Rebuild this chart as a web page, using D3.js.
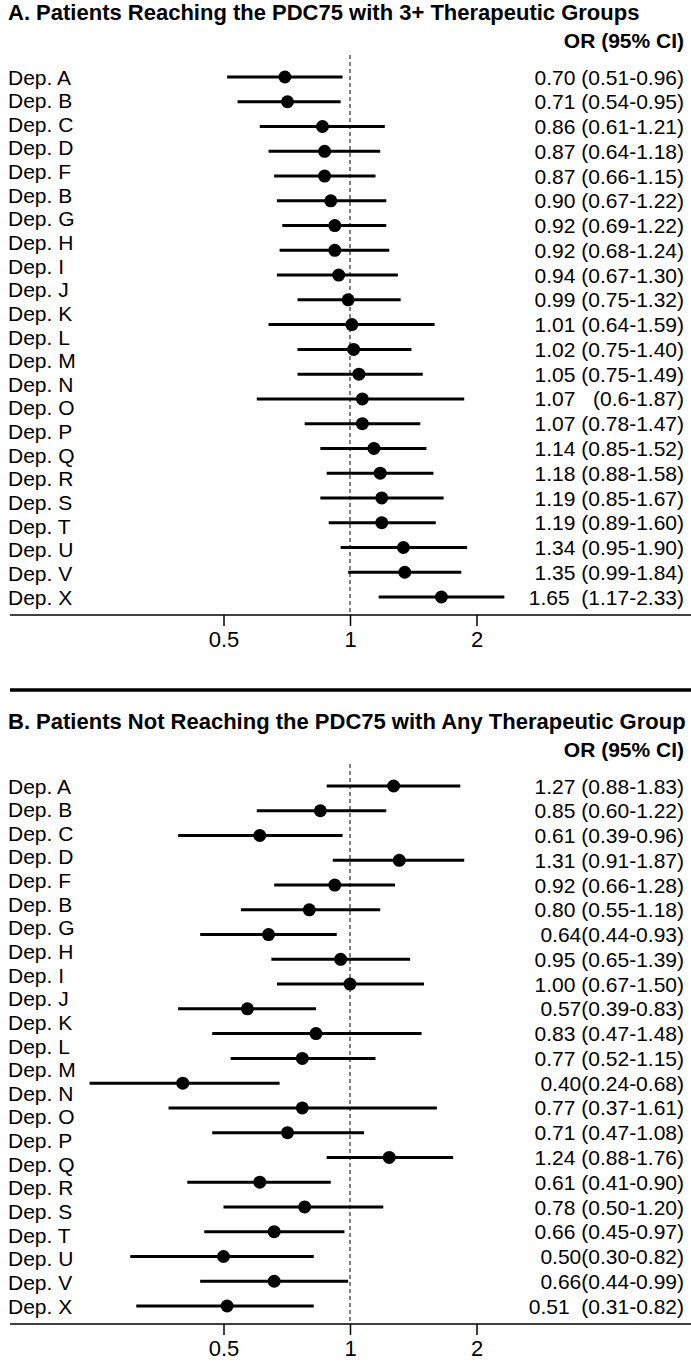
<!DOCTYPE html>
<html lang="en">
<head>
<meta charset="UTF-8">
<title>Forest plots</title>
<script src="https://d3js.org/d3.v7.min.js"></script>
<style>
  body { margin: 0; background: #fff; }
  text { font-family: "Liberation Sans", Arial, Helvetica, sans-serif; fill: #000; }
</style>
</head>
<body>
<script>
// department labels (23 of them, the plot rows are 22)
var depts = ["Dep. A","Dep. B","Dep. C","Dep. D","Dep. F","Dep. B","Dep. G","Dep. H","Dep. I","Dep. J","Dep. K","Dep. L",
             "Dep. M","Dep. N","Dep. O","Dep. P","Dep. Q","Dep. R","Dep. S","Dep. T","Dep. U","Dep. V","Dep. X"];

// panel A
var orA = [0.70,0.71,0.86,0.87,0.87,0.90,0.92,0.92,0.94,0.99,1.01,1.02,1.05,1.07,1.07,1.14,1.18,1.19,1.19,1.34,1.35,1.65];
var loA = [0.51,0.54,0.61,0.64,0.66,0.67,0.69,0.68,0.67,0.75,0.64,0.75,0.75,0.60,0.78,0.85,0.88,0.85,0.89,0.95,0.99,1.17];
var hiA = [0.96,0.95,1.21,1.18,1.15,1.22,1.22,1.24,1.30,1.32,1.59,1.40,1.49,1.87,1.47,1.52,1.58,1.67,1.60,1.90,1.84,2.33];
var txtA = ["0.70 (0.51-0.96)","0.71 (0.54-0.95)","0.86 (0.61-1.21)","0.87 (0.64-1.18)","0.87 (0.66-1.15)",
            "0.90 (0.67-1.22)","0.92 (0.69-1.22)","0.92 (0.68-1.24)","0.94 (0.67-1.30)","0.99 (0.75-1.32)",
            "1.01 (0.64-1.59)","1.02 (0.75-1.40)","1.05 (0.75-1.49)","1.07   (0.6-1.87)","1.07 (0.78-1.47)",
            "1.14 (0.85-1.52)","1.18 (0.88-1.58)","1.19 (0.85-1.67)","1.19 (0.89-1.60)","1.34 (0.95-1.90)",
            "1.35 (0.99-1.84)","1.65  (1.17-2.33)"];

// panel B
var orB = [1.27,0.85,0.61,1.31,0.92,0.80,0.64,0.95,1.00,0.57,0.83,0.77,0.40,0.77,0.71,1.24,0.61,0.78,0.66,0.50,0.66,0.51];
var loB = [0.88,0.60,0.39,0.91,0.66,0.55,0.44,0.65,0.67,0.39,0.47,0.52,0.24,0.37,0.47,0.88,0.41,0.50,0.45,0.30,0.44,0.31];
var hiB = [1.83,1.22,0.96,1.87,1.28,1.18,0.93,1.39,1.50,0.83,1.48,1.15,0.68,1.61,1.08,1.76,0.90,1.20,0.97,0.82,0.99,0.82];
var txtB = ["1.27 (0.88-1.83)","0.85 (0.60-1.22)","0.61 (0.39-0.96)","1.31 (0.91-1.87)","0.92 (0.66-1.28)",
            "0.80 (0.55-1.18)","0.64(0.44-0.93)","0.95 (0.65-1.39)","1.00 (0.67-1.50)","0.57(0.39-0.83)",
            "0.83 (0.47-1.48)","0.77 (0.52-1.15)","0.40(0.24-0.68)","0.77 (0.37-1.61)","0.71 (0.47-1.08)",
            "1.24 (0.88-1.76)","0.61 (0.41-0.90)","0.78 (0.50-1.20)","0.66 (0.45-0.97)","0.50(0.30-0.82)",
            "0.66(0.44-0.99)","0.51  (0.31-0.82)"];

var ticks = [0.5, 1, 2];

var W = 691, H = 1368;
var svg = d3.select("body").append("svg")
    .attr("width", W)
    .attr("height", H);

// log2 scale, 1 sits at x=350
var x = d3.scaleLog().base(2)
    .domain([0.25, 4])
    .range([350 - 253, 350 + 253]);

function panel(top, title, est, lo, hi, txt) {
    var g = svg.append("g").attr("transform", "translate(0," + top + ")");

    var yLab = d3.scalePoint().domain(d3.range(depts.length)).range([77, 597]);
    var yRow = d3.scalePoint().domain(d3.range(est.length)).range([77, 597]);
    var axisY = 615;

    g.append("text")
        .attr("x", 8).attr("y", 20)
        .style("font-size", "22px").style("font-weight", "bold")
        .text(title);

    g.append("text")
        .attr("x", 684).attr("y", 48)
        .attr("text-anchor", "end")
        .style("font-size", "21px").style("font-weight", "bold")
        .text("OR (95% CI)");

    // reference line at OR = 1
    g.append("line")
        .attr("x1", x(1)).attr("x2", x(1))
        .attr("y1", 55).attr("y2", axisY)
        .attr("stroke", "#000").attr("stroke-width", 1)
        .attr("stroke-dasharray", "4,3");

    g.selectAll(".lab").data(depts).enter().append("text")
        .attr("class", "lab")
        .attr("x", 8)
        .attr("y", function (d, i) { return yLab(i); })
        .attr("dy", "0.36em")
        .style("font-size", "21px")
        .text(function (d) { return d; });

    g.selectAll(".ci").data(est).enter().append("line")
        .attr("class", "ci")
        .attr("x1", function (d, i) { return x(lo[i]); })
        .attr("x2", function (d, i) { return x(hi[i]); })
        .attr("y1", function (d, i) { return yRow(i); })
        .attr("y2", function (d, i) { return yRow(i); })
        .attr("stroke", "#000").attr("stroke-width", 3);

    g.selectAll(".pt").data(est).enter().append("circle")
        .attr("class", "pt")
        .attr("cx", function (d) { return x(d); })
        .attr("cy", function (d, i) { return yRow(i); })
        .attr("r", 6.5)
        .attr("fill", "#000");

    g.selectAll(".val").data(txt).enter().append("text")
        .attr("class", "val")
        .attr("x", 684)
        .attr("y", function (d, i) { return yRow(i); })
        .attr("dy", "0.36em")
        .attr("text-anchor", "end")
        .attr("xml:space", "preserve")
        .style("white-space", "pre")
        .style("font-size", "21px")
        .text(function (d) { return d; });

    // axis
    g.append("line")
        .attr("x1", 10).attr("x2", W)
        .attr("y1", axisY).attr("y2", axisY)
        .attr("stroke", "#000").attr("stroke-width", 1.5);

    var ax = g.append("g")
        .attr("transform", "translate(0," + axisY + ")")
        .call(d3.axisBottom(x).tickValues(ticks).tickFormat(d3.format("")).tickSize(11).tickPadding(5));
    ax.select(".domain").remove();
    ax.selectAll(".tick line").attr("stroke-width", 1.5);
    ax.selectAll(".tick text")
        .style("font-family", "'Liberation Sans', Arial, sans-serif")
        .style("font-size", "22px");
}

panel(0, "A. Patients Reaching the PDC75 with 3+ Therapeutic Groups", orA, loA, hiA, txtA);

svg.append("line")
    .attr("x1", 10).attr("x2", W)
    .attr("y1", 690).attr("y2", 690)
    .attr("stroke", "#000").attr("stroke-width", 3.5);

panel(709, "B. Patients Not Reaching the PDC75 with Any Therapeutic Group", orB, loB, hiB, txtB);
</script>
</body>
</html>
